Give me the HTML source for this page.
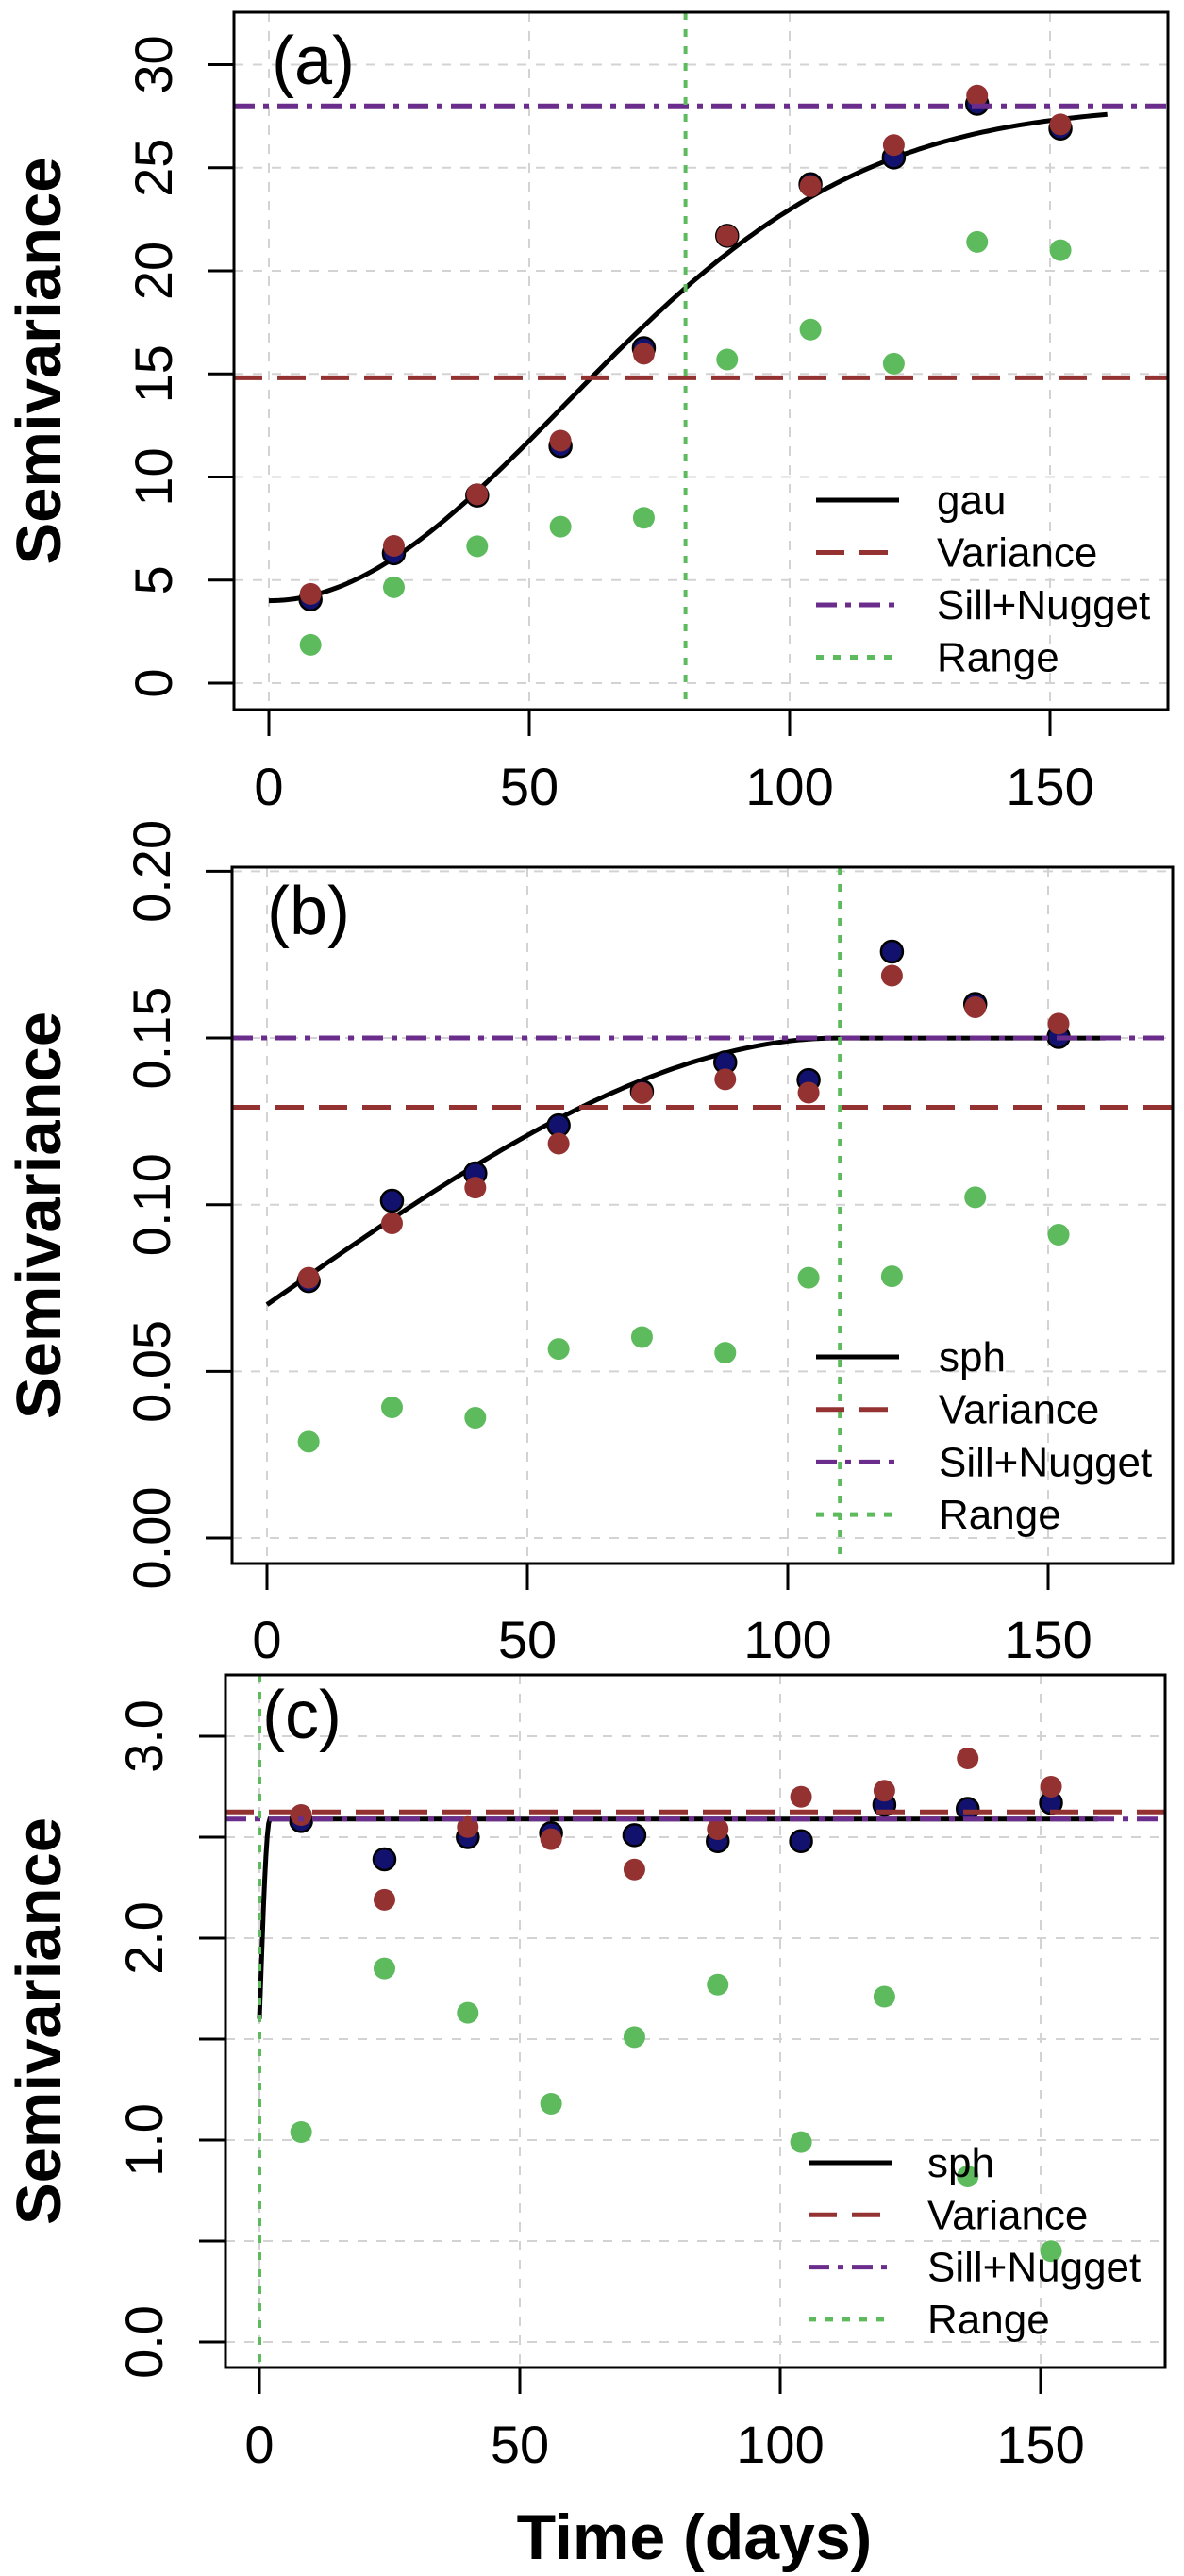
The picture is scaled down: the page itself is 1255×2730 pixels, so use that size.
<!DOCTYPE html>
<html><head><meta charset="utf-8"><style>
html,body{margin:0;padding:0;background:#fff}
svg{display:block}
text{font-family:"Liberation Sans",sans-serif}
</style></head><body>
<svg id="chart" width="1255" height="2730" viewBox="0 0 1255 2730" xmlns="http://www.w3.org/2000/svg"></svg>
<script>
// ---- data ----
const lags = [8,24,40,56,72,88,104,120,136,152];
const xTicks = [0,50,100,150];
// panel a
const aNavy  = [4.06,6.3,9.1,11.5,16.25,21.7,24.2,25.5,28.1,26.9];
const aRed   = [4.33,6.66,9.16,11.76,15.98,21.7,24.1,26.1,28.5,27.1];
const aGreen = [1.86,4.65,6.64,7.59,8.02,15.7,17.15,15.5,21.4,21.0];
const aYTicks = [0,5,10,15,20,25,30];
const aYLabels = ["0","5","10","15","20","25","30"];
const aVariance = 14.81, aSill = 28.0, aNugget = 4.0, aRange = 80;
// panel b
const bNavy  = [0.0771,0.1012,0.1094,0.1238,0.134,0.1427,0.1374,0.1759,0.1602,0.1503];
const bRed   = [0.0781,0.0944,0.1051,0.1183,0.1335,0.1376,0.1336,0.1687,0.1592,0.1543];
const bGreen = [0.0289,0.0392,0.0361,0.0567,0.0603,0.0556,0.0781,0.0785,0.1022,0.0910];
const bYTicks = [0,0.05,0.10,0.15,0.20];
const bYLabels = ["0.00","0.05","0.10","0.15","0.20"];
const bVariance = 0.1292, bSill = 0.15, bNugget = 0.07, bRange = 110;
// panel c
const cNavy  = [2.58,2.39,2.50,2.52,2.51,2.48,2.48,2.66,2.64,2.67];
const cRed   = [2.61,2.19,2.55,2.49,2.34,2.54,2.70,2.73,2.89,2.75];
const cGreen = [1.04,1.85,1.63,1.18,1.51,1.77,0.99,1.71,0.82,0.45];
const cYTicks = [0,0.5,1,1.5,2,2.5,3];
const cYLabels = ["0.0","","1.0","","2.0","","3.0"];
const cVariance = 2.625, cSill = 2.59, cNugget = 1.6, cRange = 2;
const cRangeLine = 0;

const NS = "http://www.w3.org/2000/svg";
const svg = document.getElementById('chart');
const RED="#943232", NAVY="#12126e", GREEN="#5dbb5d", PURPLE="#6b2d8c";
function mk(tag, attrs, parent){
  const e=document.createElementNS(NS,tag);
  for(const k in attrs) e.setAttribute(k, attrs[k]);
  (parent||svg).appendChild(e); return e;
}
function gau(h,n,s,a){return n+(s-n)*(1-Math.exp(-(h/a)*(h/a)));}
function sph(h,n,s,a){ if(h>=a) return s; const r=h/a; return n+(s-n)*(1.5*r-0.5*r*r*r);}

function panel(cfg){
  const g=mk('g',{});
  
  
  const X=d=>cfg.x0+d*5.52;
  const Y=v=>cfg.yBase-(v-cfg.yRef)*cfg.ys;
  const clipId='clip-'+cfg.id;
  const cp=mk('clipPath',{id:clipId},g);
  mk('rect',{x:cfg.L,y:cfg.T,width:cfg.R-cfg.L,height:cfg.B-cfg.T},cp);
  const inner=mk('g',{'clip-path':'url(#'+clipId+')'},g);
  // grid
  xTicks.forEach(t=>{
    const l=mk('line',{x1:X(t),x2:X(t),y1:cfg.T,y2:cfg.B,stroke:'#d3d3d3','stroke-width':2,'stroke-dasharray':'10 10'},inner);
    
    
  });
  cfg.yTicks.forEach(t=>{
    const l=mk('line',{x1:cfg.L,x2:cfg.R,y1:Y(t),y2:Y(t),stroke:'#d3d3d3','stroke-width':2,'stroke-dasharray':'10 10'},inner);
    
    
  });
  // model curve
  let pts=[];
  for(let h=0;h<=161;h+=1){ pts.push(X(h).toFixed(1)+','+Y(cfg.model(h)).toFixed(1)); }
  if(cfg.id==='c'){ pts=[]; for(let h=0;h<=161;h+=0.25){ pts.push(X(h).toFixed(1)+','+Y(cfg.model(h)).toFixed(1)); } }
  const curve=mk('polyline',{points:pts.join(' '),fill:'none',stroke:'#000','stroke-width':5},inner);
  
  
  // points
  function dots(vals,color,outline,nm){
    vals.forEach((v,i)=>{
      const c=mk('circle',{cx:X(lags[i]),cy:Y(v),r:11.5,fill:color},inner);
      if(outline){c.setAttribute('stroke','#000');c.setAttribute('stroke-width',2.5);}
      
      
    });
  }
  dots(cfg.navy,NAVY,true,'point-navy');
  dots(cfg.red,RED,false,'point-red');
  dots(cfg.green,GREEN,false,'point-green');
  // reference lines
  const vl=mk('line',{x1:cfg.L,x2:cfg.R,y1:Y(cfg.variance),y2:Y(cfg.variance),stroke:RED,'stroke-width':5,'stroke-dasharray':'30 16'},inner);
  
  
  const sl=mk('line',{x1:cfg.L,x2:cfg.R,y1:Y(cfg.sill),y2:Y(cfg.sill),stroke:PURPLE,'stroke-width':5,'stroke-dasharray':'22 9 6 9'},inner);
  
  
  const rl=mk('line',{x1:X(cfg.rangeLine),x2:X(cfg.rangeLine),y1:cfg.T,y2:cfg.B,stroke:GREEN,'stroke-width':4,'stroke-dasharray':'8 10'},inner);
  
  
  // box
  const box=mk('rect',{x:cfg.L,y:cfg.T,width:cfg.R-cfg.L,height:cfg.B-cfg.T,fill:'none',stroke:'#000','stroke-width':3},g);
  
  
  // axes ticks
  xTicks.forEach(t=>{
    mk('line',{x1:X(t),x2:X(t),y1:cfg.B,y2:cfg.B+28,stroke:'#000','stroke-width':3},g);
    const tx=mk('text',{x:X(t),y:cfg.xLabY+20,'text-anchor':'middle','font-size':56},g);
    tx.textContent=String(t);
    
    
  });
  cfg.yTicks.forEach((t,i)=>{
    mk('line',{x1:cfg.L-28,x2:cfg.L,y1:Y(t),y2:Y(t),stroke:'#000','stroke-width':3},g);
    if(cfg.yLabels[i]){
      const tx=mk('text',{x:0,y:0,'text-anchor':'middle','font-size':56,transform:'translate('+(cfg.yLabX+20)+','+Y(t)+') rotate(-90)'},g);
      tx.textContent=cfg.yLabels[i];
      
      
    }
  });
  // panel tag
  const tag=mk('text',{x:cfg.tagX,y:cfg.tagY,'font-size':72},g);
  tag.textContent=cfg.tag;
  
  
  // y title
  const yt=mk('text',{x:0,y:0,'text-anchor':'middle','font-size':67,'font-weight':'bold',transform:'translate(64,'+((cfg.T+cfg.B)/2)+') rotate(-90)'},g);
  yt.textContent='Semivariance';
  
  
  // legend
  const lg=mk('g',{},g);
  
  
  const items=[[cfg.modelName,'#000','none'],['Variance',RED,'30 16'],['Sill+Nugget',PURPLE,'22 9 6 9'],['Range',GREEN,'8 10']];
  items.forEach((it,i)=>{
    const y=cfg.legY+i*cfg.legDy;
    mk('line',{x1:cfg.legX,x2:cfg.legX+88,y1:y,y2:y,stroke:it[1],'stroke-width':5,'stroke-dasharray':it[2]},lg);
    const t=mk('text',{x:cfg.legTX,y:y+15,'font-size':44},lg);
    t.textContent=it[0];
    
    
  });
}

panel({id:'a',name:'panel-a',tag:'(a)',tagX:288,tagY:89,L:248,R:1238,T:13,B:752,x0:285,yBase:724,yRef:0,ys:21.85,
  yTicks:aYTicks,yLabels:aYLabels,yLabX:162,xLabY:833,navy:aNavy,red:aRed,green:aGreen,
  variance:aVariance,sill:aSill,rangeLine:aRange,model:h=>gau(h,aNugget,aSill,aRange),modelName:'gau',
  legX:865,legTX:993,legY:530,legDy:55.5});
panel({id:'b',name:'panel-b',tag:'(b)',tagX:283,tagY:990,L:246,R:1243,T:919,B:1657,x0:283,yBase:1630,yRef:0,ys:3533,
  yTicks:bYTicks,yLabels:bYLabels,yLabX:160,xLabY:1737,navy:bNavy,red:bRed,green:bGreen,
  variance:bVariance,sill:bSill,rangeLine:bRange,model:h=>sph(h,bNugget,bSill,bRange),modelName:'sph',
  legX:865,legTX:995,legY:1438,legDy:55.7});
panel({id:'c',name:'panel-c',tag:'(c)',tagX:278,tagY:1842,L:239,R:1235,T:1775,B:2509,x0:275,yBase:2482,yRef:0,ys:214,
  yTicks:cYTicks,yLabels:cYLabels,yLabX:152,xLabY:2590,navy:cNavy,red:cRed,green:cGreen,
  variance:cVariance,sill:cSill,rangeLine:cRangeLine,model:h=>sph(h,cNugget,cSill,cRange),modelName:'sph',
  legX:857,legTX:983,legY:2292,legDy:55.3});

const xt=mk('text',{x:736,y:2712,'text-anchor':'middle','font-size':68,'font-weight':'bold'});
xt.textContent='Time (days)';


</script>
</body></html>
